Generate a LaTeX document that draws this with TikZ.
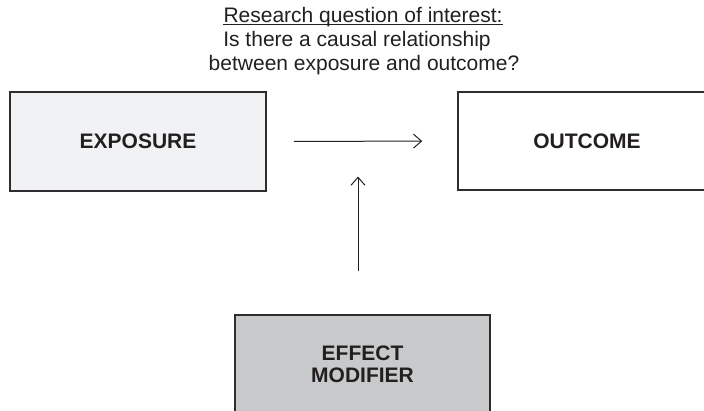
\documentclass[tikz,border=0pt]{standalone}
\usepackage{fontspec}
\setmainfont{Liberation Sans}
\usetikzlibrary{arrows.meta}
\definecolor{ink}{HTML}{231F20}
\definecolor{edge}{HTML}{2E2C2D}
\definecolor{lightfill}{HTML}{F1F2F4}
\definecolor{midfill}{HTML}{C8C9CB}
\begin{document}
\begin{tikzpicture}[x=1pt,y=-1pt,
  every node/.style={text=ink, font=\fontsize{21}{21}\selectfont},
  box/.style={draw=edge, line width=1.5pt, rectangle, inner sep=0pt,
    align=center, font=\fontsize{21}{21}\selectfont\bfseries},
  link/.style={draw=ink, line width=1pt,
    -{Straight Barb[length=8pt,width=14pt,line width=1pt]}},
  qline/.style={anchor=base, inner sep=0pt}]
  \useasboundingbox (0,0) rectangle (704,410);
  \clip (0,0) rectangle (704,410);

  % question text
  \node[qline] (q1) at (363,22) {Research question of interest:};
  \draw[ink, line width=1.3pt] ([yshift=-2.6pt]q1.base west) -- ([yshift=-2.6pt]q1.base east);
  \node[qline] (q2) at (357,46) {Is there a causal relationship};
  \node[qline] (q3) at (364,70) {between exposure and outcome?};

  % boxes
  \node[box, fill=lightfill, minimum width=256pt, minimum height=99pt]
    (expo) at (138,141.5) {EXPOSURE};
  \node[box, fill=white, minimum width=258pt, minimum height=98pt]
    (outc) at (587,141) {OUTCOME};
  \node[box, fill=midfill, minimum width=255pt, minimum height=99pt]
    (effm) at (362.5,364.5) {EFFECT\\[0.5pt]MODIFIER};

  % arrows
  \draw[link, shorten <=27pt, shorten >=35pt] (expo.east) -- (outc.west);
  \coordinate (hmid) at (358,141.5);
  \draw[link, shorten <=43pt, shorten >=35pt] (effm.north -| hmid) -- (hmid);
\end{tikzpicture}
\end{document}
